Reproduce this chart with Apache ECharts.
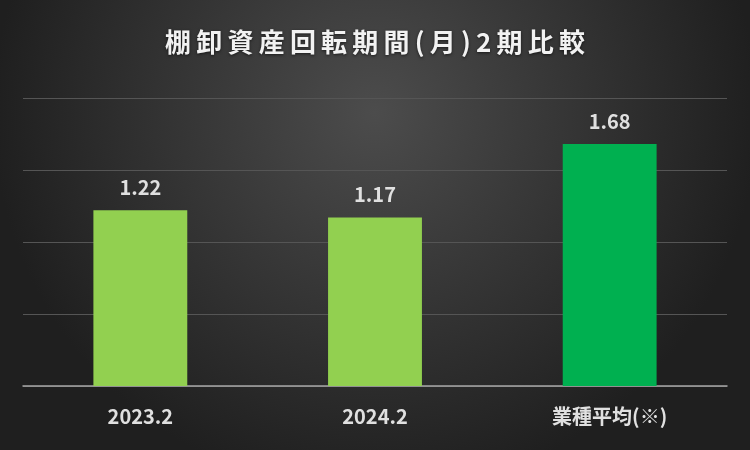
<!DOCTYPE html>
<html><head><meta charset="utf-8">
<script src="https://cdn.jsdelivr.net/npm/echarts@6/dist/echarts.min.js"></script>
<style>html,body{margin:0;padding:0;background:#2a2a2a}#c{width:750px;height:450px}</style>
</head><body><div id="c"></div>
<script>
const titleText = '棚卸資産回転期間(月)2期比較';
const categories = ['2023.2', '2024.2', '業種平均(※)'];
const values = [1.22, 1.17, 1.68];
const barColors = ['#92D050', '#92D050', '#00B050'];
const yTicks = [0, 0.5, 1, 1.5, 2];

const chart = echarts.init(document.getElementById('c'), null, {renderer: 'canvas'});
const font = '"Noto Sans CJK JP", "Noto Sans", sans-serif';
chart.setOption({
  backgroundColor: {
    type: 'radial', x: 0.5, y: 0.25, r: 0.85,
    colorStops: [{offset: 0, color: '#4c4c4c'}, {offset: 1, color: '#1f1f1f'}]
  },
  title: {
    text: titleText.split('').join('\u2009'),
    left: 'center', top: 24,
    textStyle: {color: '#f2f2f2', fontSize: 26, fontWeight: 'bold', fontFamily: font,
      textShadowColor: 'rgba(0,0,0,0.6)', textShadowBlur: 3, textShadowOffsetY: 1}
  },
  grid: {left: 23, right: 23, top: 98, bottom: 64},
  xAxis: {
    type: 'category', data: categories,
    axisLine: {lineStyle: {color: '#a6a6a6', width: 1.5}},
    axisTick: {show: false},
    axisLabel: {color: '#e0e0e0', fontSize: 20, fontWeight: 'bold', fontFamily: font, margin: 20}
  },
  yAxis: {
    type: 'value', min: yTicks[0], max: yTicks[yTicks.length - 1], interval: 0.5,
    axisLabel: {show: false},
    axisLine: {show: false}, axisTick: {show: false},
    splitLine: {lineStyle: {color: '#555555', width: 1}}
  },
  series: [{
    type: 'bar', barWidth: '40%',
    data: values.map((v, i) => ({value: v, itemStyle: {color: barColors[i]}})),
    label: {show: true, position: 'top', distance: 13, color: '#e0e0e0', fontSize: 20,
      fontWeight: 'bold', fontFamily: font, formatter: p => p.value.toFixed(2)}
  }]
});
</script></body></html>
